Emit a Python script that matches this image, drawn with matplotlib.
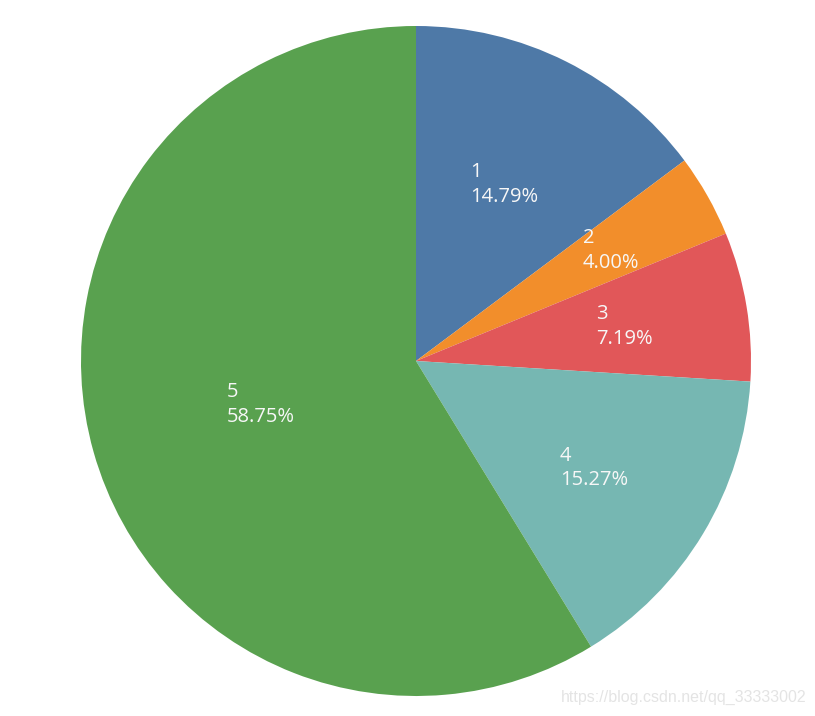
import numpy as np
import matplotlib.pyplot as plt

labels = ["1", "2", "3", "4", "5"]
shares = [14.79, 4.00, 7.19, 15.27, 58.75]
colors = ["#4e79a7", "#f28e2b", "#e15759", "#76b7b2", "#59a14f"]
label_r = [0.59, 0.67, 0.63, 0.62, 0.48]

fig = plt.figure(figsize=(8.15, 7.16), dpi=100)
ax = fig.add_axes([81 / 815, 20 / 716, 670 / 815, 670 / 716])

wedges, _ = ax.pie(shares, colors=colors, startangle=90, counterclock=False,
                   wedgeprops=dict(linewidth=0))
ax.set_xlim(-1, 1)
ax.set_ylim(-1, 1)
ax.set_aspect("equal")
ax.axis("off")

# labels: name + percentage, left aligned block centred at mid angle
for w, lab, val, r in zip(wedges, labels, shares, label_r):
    ang = np.deg2rad((w.theta1 + w.theta2) / 2)
    x, y = r * np.cos(ang), r * np.sin(ang)
    ax.text(x, y, f"{lab}\n{val:.2f}%", ha="center", va="center",
            multialignment="left", color="#f7f7f7", fontsize=14.5,
            family="Open Sans", linespacing=1.3)

fig.text(806 / 815, 1 - 697 / 716, "https://blog.csdn.net/qq_33333002",
         ha="right", va="center", color="#e4e4e4", fontsize=11.5,
         family="Liberation Sans")

fig.savefig("out.png", dpi=100)
